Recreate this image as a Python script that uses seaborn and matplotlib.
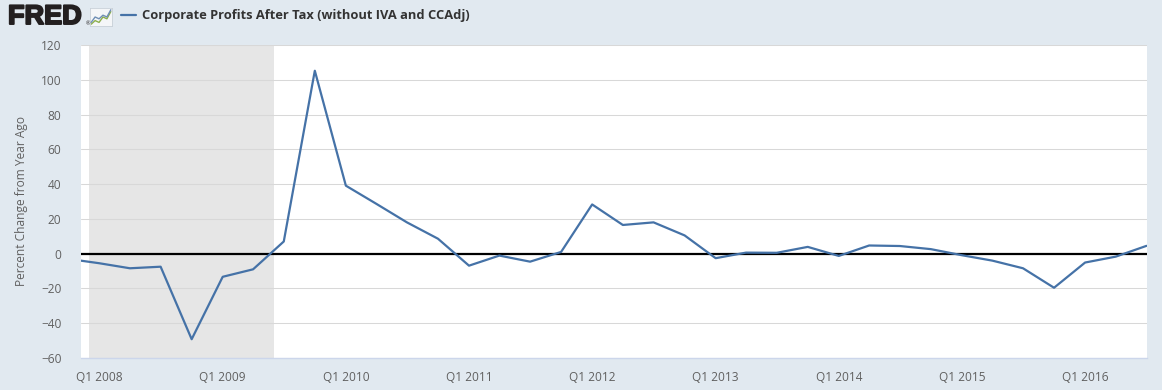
import pandas as pd
import matplotlib.pyplot as plt
import matplotlib.patheffects as pe
import seaborn as sns

# -----------------------------
# Data (quarterly, percent change from year ago)
# -----------------------------
quarters = pd.date_range("2007-10-01", "2016-07-01", freq="QS")
profits_pct = [-3.0,
               -5.5, -8.4, -7.5, -49.2,
               -13.3, -9.0, 7.0, 105.2,
               39.1, 28.7, 18.0, 8.6,
               -6.9, -1.1, -4.6, 1.0,
               28.3, 16.5, 18.0, 10.5,
               -2.6, 0.6, 0.5, 3.9,
               -1.3, 4.7, 4.4, 2.6,
               -0.9, -4.0, -8.4, -19.6,
               -5.1, -1.7, 4.5]
recession_start = pd.Timestamp("2007-12-01")
recession_end = pd.Timestamp("2009-06-01")
y_ticks = [-60, -40, -20, 0, 20, 40, 60, 80, 100, 120]
x_tick_years = [2008, 2009, 2010, 2011, 2012, 2013, 2014, 2015, 2016]
series_name = "Corporate Profits After Tax (without IVA and CCAdj)"

df = pd.DataFrame({"date": quarters, "value": profits_pct})

# -----------------------------
# Style
# -----------------------------
sns.set_style("white")
plt.rcParams['font.family'] = ['Open Sans', 'DejaVu Sans']

bg = "#e1e9f0"
line_color = "#4572a7"
tick_color = "#606060"
axis_color = "#ccd6eb"

fig = plt.figure(figsize=(11.62, 3.90), dpi=100, facecolor=bg)
ax = fig.add_axes([81 / 1162, 32 / 390, (1146.5 - 81) / 1162, (358 - 45) / 390])
ax.set_facecolor("white")

# recession shading
ax.axvspan(recession_start, recession_end, color="#e6e6e6", lw=0, zorder=0)

# gridlines
for yt in y_ticks:
    if yt != 0:
        ax.axhline(yt, color="#d8d8d8", lw=0.75, zorder=1)
ax.axhline(0, color="black", lw=1.6, zorder=2)

sns.lineplot(data=df, x="date", y="value", ax=ax, color=line_color, lw=1.6, zorder=3)

ax.set_xlim(pd.Timestamp("2007-11-08"), pd.Timestamp("2016-07-01"))
ax.set_ylim(-60, 120)
ax.set_yticks(y_ticks)
ax.set_xticks([pd.Timestamp(f"{y}-01-01") for y in x_tick_years])
ax.set_xticklabels([f"Q1 {y}" for y in x_tick_years])

for s in ["top", "right", "left"]:
    ax.spines[s].set_visible(False)
ax.spines["bottom"].set_color(axis_color)
ax.spines["bottom"].set_linewidth(1)
ax.spines["bottom"].set_zorder(4)

ax.tick_params(axis="x", direction="out", length=7.5, width=0.8, color=axis_color,
               labelcolor=tick_color, labelsize=8.6, pad=2)
ax.tick_params(axis="y", length=0, labelcolor=tick_color, labelsize=8.6, pad=14)
ax.set_xlabel("")
ax.set_ylabel("Percent Change from Year Ago", color=tick_color, fontsize=8.6)
ax.yaxis.set_label_coords(-0.0497, 0.5)

# -----------------------------
# Header: FRED logo + legend entry
# -----------------------------
fig.text(8 / 1162, 1 - 17 / 390, "FRED", fontsize=19.5, fontweight="bold", color="#231f20",
         va="center", ha="left", family=["Liberation Sans", "DejaVu Sans"],
         path_effects=[pe.withStroke(linewidth=1.4, foreground="#231f20")])
fig.text(86 / 1162, 1 - 24 / 390, "®", fontsize=4, color="#231f20", va="center", ha="left")

icon = fig.add_axes([90 / 1162, 1 - 26 / 390, 22 / 1162, 18 / 390])
icon.set_facecolor("#f4f6f8")
icon.plot([0, 1, 2, 3, 4, 5], [1, 3, 2, 5, 4, 8], color="#8db04c", lw=1)
icon.plot([0, 1, 2, 3, 4, 5], [2, 5, 4, 6, 5, 9], color="#6f8fb5", lw=1)
icon.set_xlim(-0.3, 5.3)
icon.set_ylim(0, 10)
icon.set_xticks([])
icon.set_yticks([])
for s in icon.spines.values():
    s.set_color("#c8d0d8")
    s.set_linewidth(0.6)

fig.add_artist(plt.Line2D([121 / 1162, 136 / 1162], [1 - 15 / 390, 1 - 15 / 390],
                          color=line_color, lw=1.6, transform=fig.transFigure))
fig.text(142 / 1162, 1 - 15 / 390, series_name, fontsize=9.3, fontweight="bold",
         color="#333333", va="center", ha="left")

fig.savefig("out.png", dpi=100, facecolor=bg)
